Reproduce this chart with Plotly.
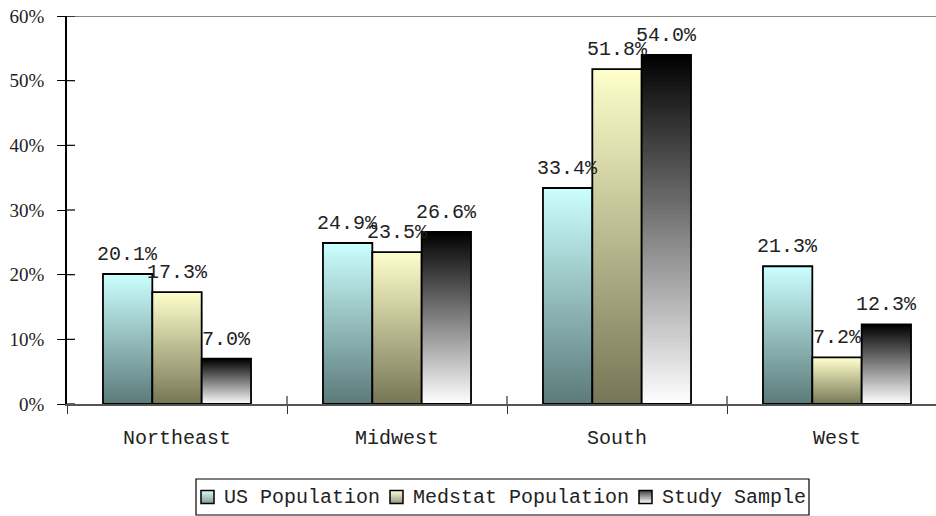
import plotly.graph_objects as go

# ---- data -------------------------------------------------------------
regions = ["Northeast", "Midwest", "South", "West"]
series_names = ["US Population", "Medstat Population", "Study Sample"]
us_population = [20.1, 24.9, 33.4, 21.3]
medstat_population = [17.3, 23.5, 51.8, 7.2]
study_sample = [7.0, 26.6, 54.0, 12.3]
y_ticks = [0, 10, 20, 30, 40, 50, 60]
y_tick_labels = [f"{t}%" for t in y_ticks]

series_values = [us_population, medstat_population, study_sample]

# ---- styling ----------------------------------------------------------
# (bottom colour, top colour) of each series' vertical gradient
gradients = [
    ((92, 122, 122), (204, 255, 255)),
    ((118, 118, 86), (255, 255, 204)),
    ((255, 255, 255), (0, 0, 0)),
]
MONO = "Liberation Mono"
SERIF = "Liberation Serif"
N_SLICES = 90
OVERLAP = 3
W, H = 936, 516
M_L, M_T, M_B = 67, 16, 112
PLOT_H = H - M_T - M_B
BARGAP = 0.327
SLOT_PX = (W - M_L) / 3.95
BAR_PX = SLOT_PX * (1 - BARGAP) / 3


def mix(c0, c1, t):
    return "rgb({},{},{})".format(*[round(a + (b - a) * t) for a, b in zip(c0, c1)])


fig = go.Figure()

for s, (name, vals) in enumerate(zip(series_names, series_values)):
    c_bot, c_top = gradients[s]
    xs, bases, heights, colors = [], [], [], []
    for k in range(N_SLICES):
        t = (k + 0.5) / N_SLICES
        span = min(k + OVERLAP, N_SLICES) - k
        for cat, v in zip(regions, vals):
            xs.append(cat)
            bases.append(v * k / N_SLICES)
            heights.append(v * span / N_SLICES)
            colors.append(mix(c_bot, c_top, t))
    # gradient body of the bars: overlapping slices stacked bottom-up
    fig.add_trace(go.Bar(
        x=xs, y=heights, base=bases, offsetgroup=str(s),
        marker=dict(color=colors, line=dict(width=0)),
        hoverinfo="skip", showlegend=False,
    ))
    # outline of each bar
    fig.add_trace(go.Bar(
        x=regions, y=vals, offsetgroup=str(s), name=name,
        marker=dict(color="rgba(0,0,0,0)", line=dict(color="black", width=1.8)),
        showlegend=False,
    ))
    # value labels above the bars
    for cat, v in zip(regions, vals):
        fig.add_annotation(
            x=cat, y=v, xref="x", yref="y", text=f"{v:.1f}%",
            showarrow=False, yanchor="bottom", xanchor="center",
            xshift=(s - 1) * BAR_PX, yshift=6,
            font=dict(family=MONO, size=20, color="#222"),
        )

shapes = []
# top frame line at 60%
shapes.append(dict(type="line", xref="paper", yref="y", x0=0, x1=1, y0=60, y1=60,
                   line=dict(color="#888", width=2), layer="above"))
# upward halves of the x-axis boundary ticks
for b in [0.5, 1.5, 2.5]:
    shapes.append(dict(type="line", xref="x", yref="y", ysizemode="pixel", yanchor=0,
                       x0=b, x1=b, y0=0, y1=8, line=dict(color="#333", width=1.2),
                       layer="above"))
# right-hand halves of the y-axis ticks
for t in y_ticks:
    shapes.append(dict(type="line", xref="paper", yref="y", xsizemode="pixel", xanchor=0,
                       x0=0, x1=8, y0=t, y1=t, line=dict(color="black", width=1.2),
                       layer="above"))

# ---- hand-built legend ------------------------------------------------
def px_x(px):
    return (px - M_L) / (W - M_L)


def px_y(py):
    return (M_T + PLOT_H - py) / PLOT_H


CHAR_PX = 12.0
SYM = 13
leg_top, leg_bot = 479, 515
leg_mid = (leg_top + leg_bot) / 2
x = 201
legend_left = x - 5
for s, name in enumerate(series_names):
    c_bot, c_top = gradients[s]
    sy0, sy1 = leg_mid - SYM / 2, leg_mid + SYM / 2
    n_strip = 13
    for k in range(n_strip):
        t = 1 - (k + 0.5) / n_strip
        y_a = sy0 + (sy1 - sy0) * k / n_strip
        y_b = sy0 + (sy1 - sy0) * (k + 1) / n_strip
        shapes.append(dict(type="rect", xref="paper", yref="paper",
                           x0=px_x(x), x1=px_x(x + SYM), y0=px_y(y_a), y1=px_y(y_b),
                           fillcolor=mix(c_bot, c_top, t), line=dict(width=0), layer="above"))
    shapes.append(dict(type="rect", xref="paper", yref="paper",
                       x0=px_x(x), x1=px_x(x + SYM), y0=px_y(sy0), y1=px_y(sy1),
                       fillcolor="rgba(0,0,0,0)", line=dict(color="black", width=1.5),
                       layer="above"))
    tx = x + SYM + 8
    fig.add_annotation(x=px_x(tx), y=px_y(leg_mid), xref="paper", yref="paper",
                       text=name, showarrow=False, xanchor="left", yanchor="middle",
                       font=dict(family=MONO, size=20, color="#222"))
    x = tx + len(name) * CHAR_PX + 12
legend_right = x - 12 + 5
shapes.append(dict(type="rect", xref="paper", yref="paper",
                   x0=px_x(legend_left), x1=px_x(legend_right),
                   y0=px_y(leg_top), y1=px_y(leg_bot),
                   fillcolor="rgba(0,0,0,0)", line=dict(color="black", width=1.2),
                   layer="above"))

fig.update_layout(
    width=W, height=H,
    margin=dict(l=M_L, r=0, t=M_T, b=M_B),
    plot_bgcolor="white", paper_bgcolor="white",
    barmode="group", bargap=BARGAP, bargroupgap=0,
    showlegend=False,
    shapes=shapes,
)
fig.update_xaxes(
    type="category", categoryorder="array", categoryarray=regions,
    range=[-0.5, 3.45], tickson="boundaries",
    ticks="outside", ticklen=8, tickcolor="#333", tickwidth=1.2,
    showline=True, linecolor="#555", linewidth=1.5,
    showgrid=False, zeroline=False, ticklabelstandoff=14,
    tickfont=dict(family=MONO, size=20, color="#222"),
)
fig.update_yaxes(
    range=[0, 60], tickmode="array", tickvals=y_ticks, ticktext=y_tick_labels,
    ticks="outside", ticklen=8, tickcolor="black", tickwidth=1.2,
    showline=True, linecolor="black", linewidth=1.5,
    showgrid=False, zeroline=False, ticklabelstandoff=9,
    tickfont=dict(family=SERIF, size=19, color="#222"),
)

fig.write_html("out.html")
